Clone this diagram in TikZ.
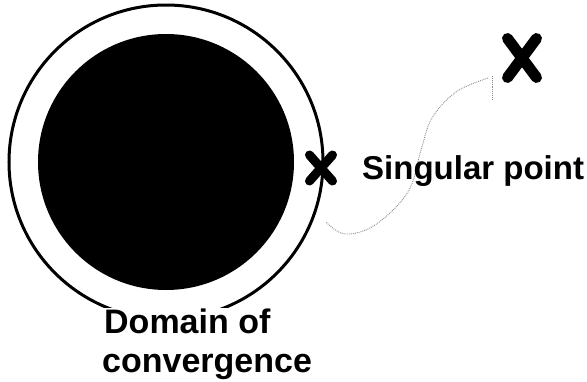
\documentclass[tikz,border=0pt]{standalone}
\usepackage{fontspec}
\setmainfont{Liberation Sans}
\begin{document}
\begin{tikzpicture}[x=1pt,y=-1pt,
  lbl/.style={font=\fontsize{34}{36}\selectfont\bfseries, inner sep=0pt, anchor=base west},
  xmark/.style={line width=9pt, line cap=round},
  bigxmark/.style={line width=11pt, line cap=round},
  faint/.style={black!45, densely dotted, line width=0.9pt}]
\useasboundingbox (0,0) rectangle (587,381);
\coordinate (c) at (166,162);
\fill[black] (c) circle[radius=128];
\draw[line width=3pt] (c) circle[radius=157];
% faint dotted trace
\coordinate (t1) at (326,222);
\coordinate (t2) at (488,78);
\draw[faint] plot[smooth, tension=0.6] coordinates {(t2) (456,92) (432,118) (421,150) (408,192) (375,225) (345,234) (t1)};
\draw[faint] (492,76) -- (492,100);
% singular point X
\coordinate (sp) at (321,168);
\draw[xmark] (sp) ++(-11.5,-13) -- ++(23,26);
\draw[xmark] (sp) ++(11.5,-13) -- ++(-23,26);
% other X
\coordinate (op) at (522,58);
\draw[bigxmark] (op) ++(-14.5,-19.5) -- ++(29,39);
\draw[bigxmark] (op) ++(14.5,-19.5) -- ++(-29,39);
% labels
\node[lbl, font=\fontsize{33}{35}\selectfont\bfseries] (sing) at (362,179) {Singular point};
\node[lbl, fill=white] (dom) at (104,333) {Domain of};
\node[lbl] (conv) at (102,372) {convergence};
\end{tikzpicture}
\end{document}
